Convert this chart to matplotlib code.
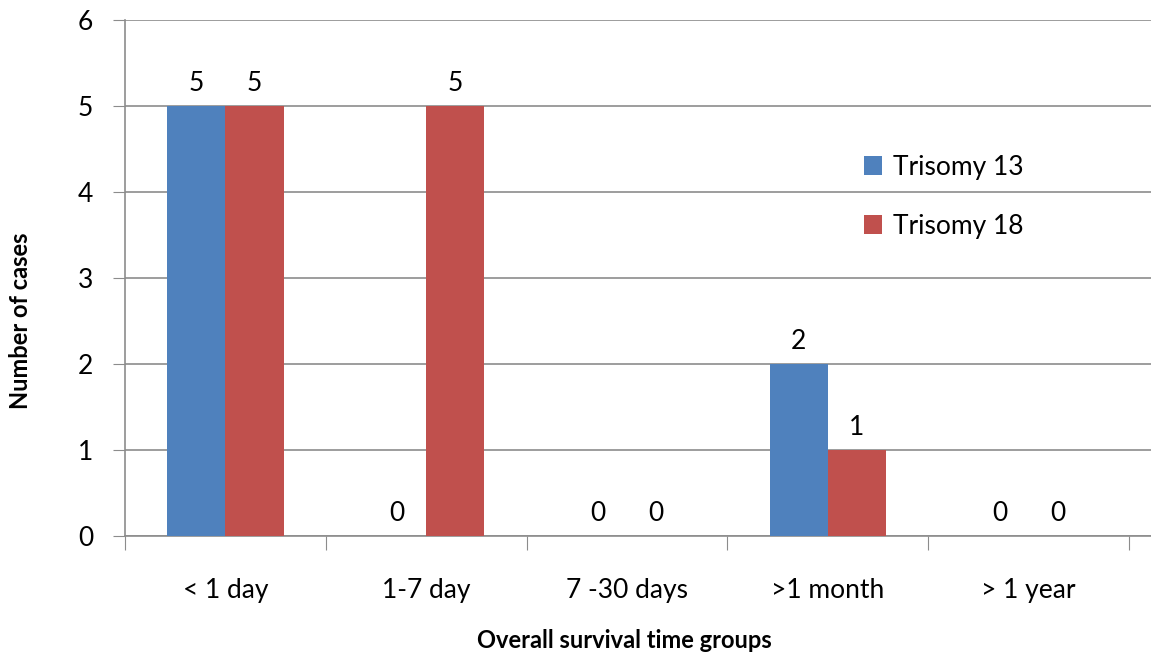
import numpy as np
import matplotlib.pyplot as plt

# ---------------------- data ---------------------- #
groups = ["< 1 day", "1-7 day", "7 -30 days", ">1 month", "> 1 year"]
trisomy13 = [5, 0, 0, 2, 0]
trisomy18 = [5, 5, 0, 1, 0]
series_names = ["Trisomy 13", "Trisomy 18"]
yticks = [0, 1, 2, 3, 4, 5, 6]

BLUE = "#4F81BD"
RED = "#C0504D"
GRID = "#8C8C8C"

plt.rcParams["font.family"] = ["Lato", "DejaVu Sans"]

fig = plt.figure(figsize=(11.51, 6.59), dpi=100)
ax = fig.add_axes([125 / 1151, 123 / 659, 1026 / 1151, 516 / 659])

x = np.arange(len(groups))
w = 0.29

bars13 = ax.bar(x - w / 2, trisomy13, w, color=BLUE, label=series_names[0], zorder=3)
bars18 = ax.bar(x + w / 2, trisomy18, w, color=RED, label=series_names[1], zorder=3)

for bars, vals in [(bars13, trisomy13), (bars18, trisomy18)]:
    for bar, val in zip(bars, vals):
        ax.annotate(
            str(val),
            (bar.get_x() + bar.get_width() / 2, bar.get_height()),
            xytext=(0, 7),
            textcoords="offset points",
            ha="center",
            va="bottom",
            fontsize=19,
        )

ax.set_ylim(0, 6)
ax.set_xlim(-0.5, 4.61)
ax.set_yticks(yticks)
ax.set_yticklabels([str(t) for t in yticks], fontsize=19)
ax.tick_params(axis="y", length=9, color=GRID, pad=14)
ax.yaxis.grid(True, color=GRID, linewidth=1.2, zorder=0)

# category boundaries as ticks, labels in between
ax.set_xticks(np.arange(-0.5, 4.6, 1.0))
ax.set_xticklabels([])
ax.tick_params(axis="x", which="major", length=10, color=GRID)
ax.set_xticks(x, minor=True)
ax.set_xticklabels(groups, minor=True, fontsize=19)
ax.tick_params(axis="x", which="minor", length=0, pad=30)

for s in ["top", "right"]:
    ax.spines[s].set_visible(False)
for s in ["left", "bottom"]:
    ax.spines[s].set_color(GRID)
    ax.spines[s].set_linewidth(1.2)

ax.set_xlabel("Overall survival time groups", fontsize=17, fontweight="bold")
ax.set_ylabel("Number of cases", fontsize=17, fontweight="bold")
ax.xaxis.set_label_coords(0.487, -0.18)
ax.yaxis.set_label_coords(-0.091, 0.417)

ax.legend(
    loc="upper left",
    bbox_to_anchor=(728 / 1026, 1 - 124 / 516),
    frameon=False,
    fontsize=19,
    handlelength=0.7,
    handleheight=0.7,
    handletextpad=0.4,
    labelspacing=1.3,
    borderaxespad=0,
)

fig.savefig("out.png", dpi=100)
